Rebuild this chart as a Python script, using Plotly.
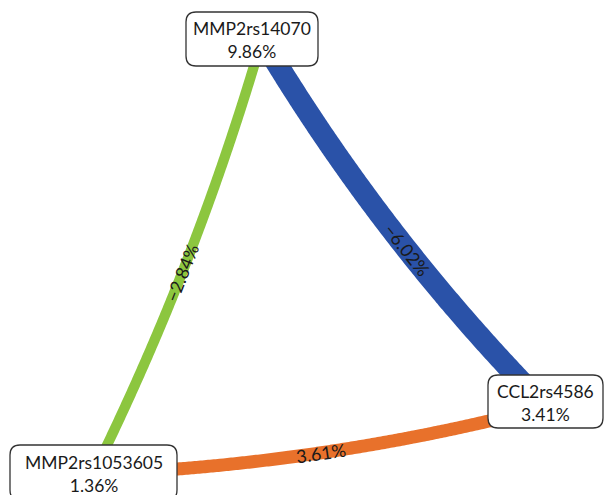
import numpy as np
import plotly.graph_objects as go

# ---- data ----
node_names = ["MMP2rs14070", "CCL2rs4586", "MMP2rs1053605"]
node_values = [9.86, 3.41, 1.36]
edge_source = ["MMP2rs14070", "MMP2rs14070", "MMP2rs1053605"]
edge_target = ["MMP2rs1053605", "CCL2rs4586", "CCL2rs4586"]
edge_values = [-2.84, -6.02, 3.61]

# ---- layout / style (pixel space) ----
W, H = 607, 495
edge_colors = ["#8cc63f", "#2a52a8", "#e8712b"]
node_anchor = {"MMP2rs14070": (262, 39), "CCL2rs4586": (546, 407), "MMP2rs1053605": (93, 474)}
node_box = {"MMP2rs14070": (186, 12, 318, 66),
            "CCL2rs4586": (488, 375, 603, 428),
            "MMP2rs1053605": (10, 445, 177, 500)}
edge_bend = [0.044, -0.060, -0.054]
label_t = [0.53, 0.55, 0.5]
width_per_unit = 3.6
FONT = "Lato"


def fmt(v):
    return f"{v:.2f}%".replace("-", "\u2212")


def rounded_rect(x0, y0, x1, y1, r):
    return (f"M {x0+r},{y0} L {x1-r},{y0} Q {x1},{y0} {x1},{y0+r} "
            f"L {x1},{y1-r} Q {x1},{y1} {x1-r},{y1} L {x0+r},{y1} "
            f"Q {x0},{y1} {x0},{y1-r} L {x0},{y0+r} Q {x0},{y0} {x0+r},{y0} Z")


fig = go.Figure()
annotations = []

for s, t, v, col, k, lt in zip(edge_source, edge_target, edge_values, edge_colors, edge_bend, label_t):
    p0 = np.array(node_anchor[s], float)
    p2 = np.array(node_anchor[t], float)
    d = p2 - p0
    L = np.hypot(*d)
    u = d / L
    n = np.array([u[1], -u[0]])
    c = (p0 + p2) / 2 + k * L * n
    ts = np.linspace(0, 1, 120)[:, None]
    pts = (1 - ts) ** 2 * p0 + 2 * ts * (1 - ts) * c + ts ** 2 * p2
    fig.add_trace(go.Scatter(x=pts[:, 0], y=pts[:, 1], mode="lines",
                             line=dict(color=col, width=width_per_unit * abs(v),
                                       shape="spline", simplify=False),
                             hoverinfo="skip", showlegend=False))
    tt = lt
    pos = (1 - tt) ** 2 * p0 + 2 * tt * (1 - tt) * c + tt ** 2 * p2
    tan = 2 * (1 - tt) * (c - p0) + 2 * tt * (p2 - c)
    ang = np.degrees(np.arctan2(tan[1], tan[0]))
    if ang > 90:
        ang -= 180
    elif ang < -90:
        ang += 180
    annotations.append(dict(x=pos[0], y=pos[1], text=fmt(v), showarrow=False,
                            textangle=ang, font=dict(family=FONT, size=18, color="#1a1a1a"),
                            xref="x", yref="y"))

shapes = []
for name, val in zip(node_names, node_values):
    x0, y0, x1, y1 = node_box[name]
    shapes.append(dict(type="path", path=rounded_rect(x0, y0, x1, y1, 10),
                       xref="x", yref="y", fillcolor="white",
                       line=dict(color="#333333", width=1.3), layer="above"))
    annotations.append(dict(x=(x0 + x1) / 2, y=(y0 + y1) / 2 + 1, text=f"{name}<br>{val:.2f}%",
                            showarrow=False, xref="x", yref="y",
                            font=dict(family=FONT, size=17.5, color="#1a1a1a")))

fig.update_layout(
    width=W, height=H, margin=dict(l=0, r=0, t=0, b=0),
    paper_bgcolor="white", plot_bgcolor="white",
    xaxis=dict(range=[0, W], visible=False, fixedrange=True),
    yaxis=dict(range=[H, 0], visible=False, fixedrange=True),
    shapes=shapes, annotations=annotations, showlegend=False,
)
fig.write_html("out.html", config={"displayModeBar": False},
               post_script="document.body.style.margin='0';document.body.style.overflow='hidden';")
